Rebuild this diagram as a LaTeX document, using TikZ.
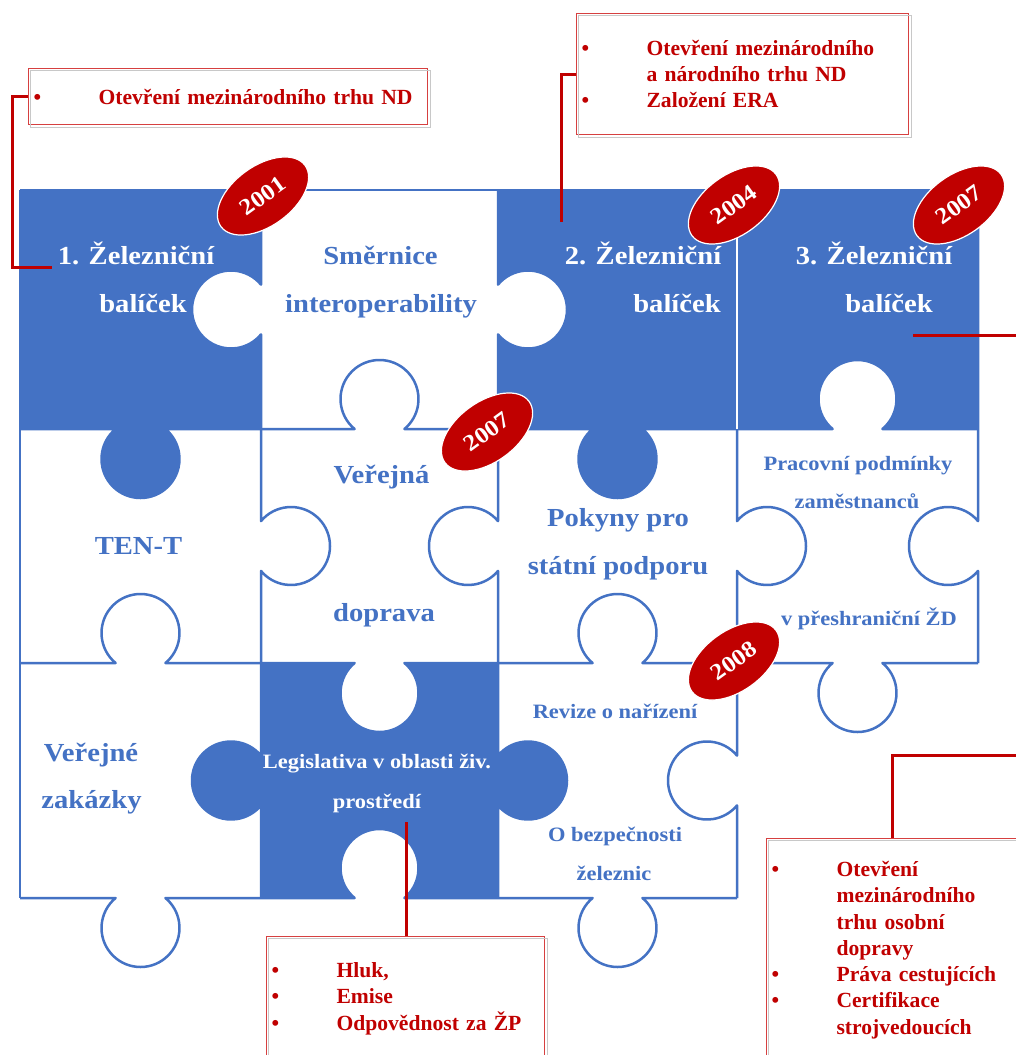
\documentclass[tikz,border=0pt]{standalone}
\usepackage{fontspec}
\setmainfont{Liberation Serif}
\newfontfamily\pzfont[FakeStretch=1.1]{Liberation Serif}
\usetikzlibrary{shapes.geometric}
\definecolor{pblue}{RGB}{68,114,196}
\definecolor{pred}{RGB}{192,0,0}
\definecolor{boxred}{RGB}{214,64,64}
\definecolor{boxshade}{RGB}{200,200,200}
\begin{document}
\begin{tikzpicture}[x=1pt,y=-1pt,
  % puzzle tab arcs (radius 39, centre 30 from the edge)
  tD/.style={start angle=230.3,end angle=-50.3,radius=39},
  tU/.style={start angle=129.7,end angle=410.3,radius=39},
  tR/.style={start angle=-140.3,end angle=140.3,radius=39},
  tL/.style={start angle=-39.7,end angle=-320.3,radius=39},
  pline/.style={draw=pblue,line width=2.5pt,line join=round},
  big/.style={font=\pzfont\bfseries\fontsize{26}{30}\selectfont,anchor=base,inner sep=0pt},
  small/.style={font=\pzfont\bfseries\fontsize{20.4}{24}\selectfont,anchor=base,inner sep=0pt},
  onblue/.style={text=white},
  onwhite/.style={text=pblue},
  yearoval/.style={ellipse,fill=pred,draw=white,line width=1.2pt,minimum width=104pt,minimum height=60pt,inner sep=0pt,text=white,font=\pzfont\bfseries\fontsize{23}{27}\selectfont,rotate=36},
  notebox/.style={draw=boxred,line width=1.1pt,anchor=north west,align=left,inner ysep=0pt,inner xsep=5pt,text=pred,font=\bfseries\fontsize{21.6}{26.3}\selectfont},
  shade/.style={draw=boxshade,line width=1pt},
  conn/.style={draw=pred,line width=3pt},
]
\def\nk{24.9}
\useasboundingbox (0,0) rectangle (1016,1055);
\fill[white] (0,0) rectangle (1016,1055);
\clip (0,0) rectangle (1016,1055);

% blue pieces
\fill[pblue] (20,190) rectangle (261,429);
\fill[pblue] (498,190) rectangle (978,429);
\fill[pblue] (261,663) rectangle (498,898);

% white tabs cut into blue pieces
\fill[white] (261,{309.5-\nk}) arc[tL] -- cycle;
\fill[white] (498,{309.5-\nk}) arc[tR] -- cycle;
\fill[white] ({857.5-\nk},429) arc[tU] -- cycle;
\fill[white] ({379.5-\nk},663) arc[tD] -- cycle;
\fill[white] ({379.5-\nk},898) arc[tU] -- cycle;
% blue tabs reaching into white pieces
\fill[pblue] ({140.5-\nk},429) arc[tD] -- cycle;
\fill[pblue] ({617.5-\nk},429) arc[tD] -- cycle;
\fill[pblue] (261,{780.5-\nk}) arc[tL] -- cycle;
\fill[pblue] (498,{780.5-\nk}) arc[tR] -- cycle;

% piece outlines, row by row
\draw[pline] (20,190) -- (978,190);
\draw[pline] (20,429) -- ({140.5-\nk},429) arc[tD] -- ({379.5-\nk},429) arc[tU]
  -- ({617.5-\nk},429) arc[tD] -- ({857.5-\nk},429) arc[tU] -- (978,429);
\draw[pline] (20,663) -- ({140.5-\nk},663) arc[tU] -- ({379.5-\nk},663) arc[tD]
  -- ({617.5-\nk},663) arc[tU] -- ({857.5-\nk},663) arc[tD] -- (978,663);
\draw[pline] (20,898) -- ({140.5-\nk},898) arc[tD] -- ({379.5-\nk},898) arc[tU]
  -- ({617.5-\nk},898) arc[tD] -- (737,898);
% ... and column by column
\draw[pline] (20,190) -- (20,898);
\draw[pline] (261,190) -- (261,{309.5-\nk}) arc[tL] -- (261,{546-\nk}) arc[tR]
  -- (261,{780.5-\nk}) arc[tL] -- (261,898);
\draw[pline] (498,190) -- (498,{309.5-\nk}) arc[tR] -- (498,{546-\nk}) arc[tL]
  -- (498,{780.5-\nk}) arc[tR] -- (498,898);
\draw[pline] (737,429) -- (737,{546-\nk}) arc[tR] -- (737,{780.5-\nk}) arc[tL] -- (737,898);
\draw[pline] (978,190) -- (978,{546-\nk}) arc[tL] -- (978,663);
% seam between the two blue packages
\draw[white,line width=2.4pt] (737,190) -- (737,429);

% labels of the pieces
\node[big,onblue] (t11a) at (136,264) {1. Železniční};
\node[big,onblue] (t11b) at (143,312) {balíček};
\node[big,onwhite] (t12a) at (380.5,264) {Směrnice};
\node[big,onwhite] (t12b) at (381,312) {interoperability};
\node[big,onblue] (t13a) at (643,264) {2. Železniční};
\node[big,onblue] (t13b) at (677,312) {balíček};
\node[big,onblue] (t14a) at (874,264) {3. Železniční};
\node[big,onblue] (t14b) at (889,312) {balíček};
\node[big,onwhite] (t21) at (138.5,554) {TEN-T};
\node[big,onwhite] (t22a) at (381.5,483) {Veřejná};
\node[big,onwhite] (t22b) at (384,621) {doprava};
\node[big,onwhite] (t23a) at (618,526) {Pokyny pro};
\node[big,onwhite] (t23b) at (618,574) {státní podporu};
\node[small,onwhite] (t24a) at (858,470) {Pracovní podmínky};
\node[small,onwhite] (t24b) at (857,508) {zaměstnanců};
\node[small,onwhite] (t24c) at (869,625) {v přeshraniční ŽD};
\node[big,onwhite] (t31a) at (91,761) {Veřejné};
\node[big,onwhite] (t31b) at (91.5,808) {zakázky};
\node[small,onblue] (t32a) at (377,768) {Legislativa v oblasti živ.};
\node[small,onblue] (t32b) at (377,808) {prostředí};
\node[small,onwhite] (t33a) at (615,718) {Revize o nařízení};
\node[small,onwhite] (t33b) at (615,841) {O bezpečnosti};
\node[small,onwhite] (t33c) at (614,880) {železnic};

% year badges
\node[yearoval] (y1) at (263,196) {2001};
\node[yearoval] (y2) at (734,205) {2004};
\node[yearoval] (y3) at (959,205) {2007};
\node[yearoval] (y4) at (487,432) {2007};
\node[yearoval] (y5) at (734,661) {2008};

% callout boxes
\node[notebox,text width=389pt,minimum height=56pt] (b1) at (28,68)
  {\makebox[65pt][l]{\textbullet}Otevření mezinárodního trhu ND};
\node[notebox,text width=322pt,minimum height=121pt] (b2) at (576,13)
  {\makebox[65pt][l]{\textbullet}Otevření mezinárodního\\
   \hspace*{65pt}a národního trhu ND\\
   \makebox[65pt][l]{\textbullet}Založení ERA};
\node[notebox,text width=268pt,minimum height=124pt] (b3) at (266,936)
  {\makebox[65pt][l]{\textbullet}Hluk,\\
   \makebox[65pt][l]{\textbullet}Emise\\
   \makebox[65pt][l]{\textbullet}Odpovědnost za ŽP};
\node[notebox,text width=250pt,minimum height=223pt] (b4) at (766,838)
  {\makebox[65pt][l]{\textbullet}Otevření\\
   \hspace*{65pt}mezinárodního\\
   \hspace*{65pt}trhu osobní\\
   \hspace*{65pt}dopravy\\
   \makebox[65pt][l]{\textbullet}Práva cestujících\\
   \makebox[65pt][l]{\textbullet}Certifikace\\
   \hspace*{65pt}strojvedoucích};
\foreach \b in {b1,b2,b3,b4}
  \draw[shade] ([shift={(2,2)}]\b.north west) rectangle ([shift={(2,2)}]\b.south east);

% connectors from the boxes to the packages
\coordinate (p1) at (52,267);
\coordinate (p2) at (561,222);
\coordinate (p3) at (913,335);
\coordinate (p3e) at (1016,335);
\coordinate (p4e) at (1016,755);
\coordinate (p5) at (406,822);
\draw[conn] (b1.west) -- ++(-16,0) |- (p1);
\draw[conn] (b2.west) -| (p2);
\draw[conn] (p3) -- (p3e);
\draw[conn] (b4.north west) ++(126,0) |- (p4e);
\draw[conn] (b3.north west) ++(140,0) -- (p5);
\end{tikzpicture}
\end{document}
